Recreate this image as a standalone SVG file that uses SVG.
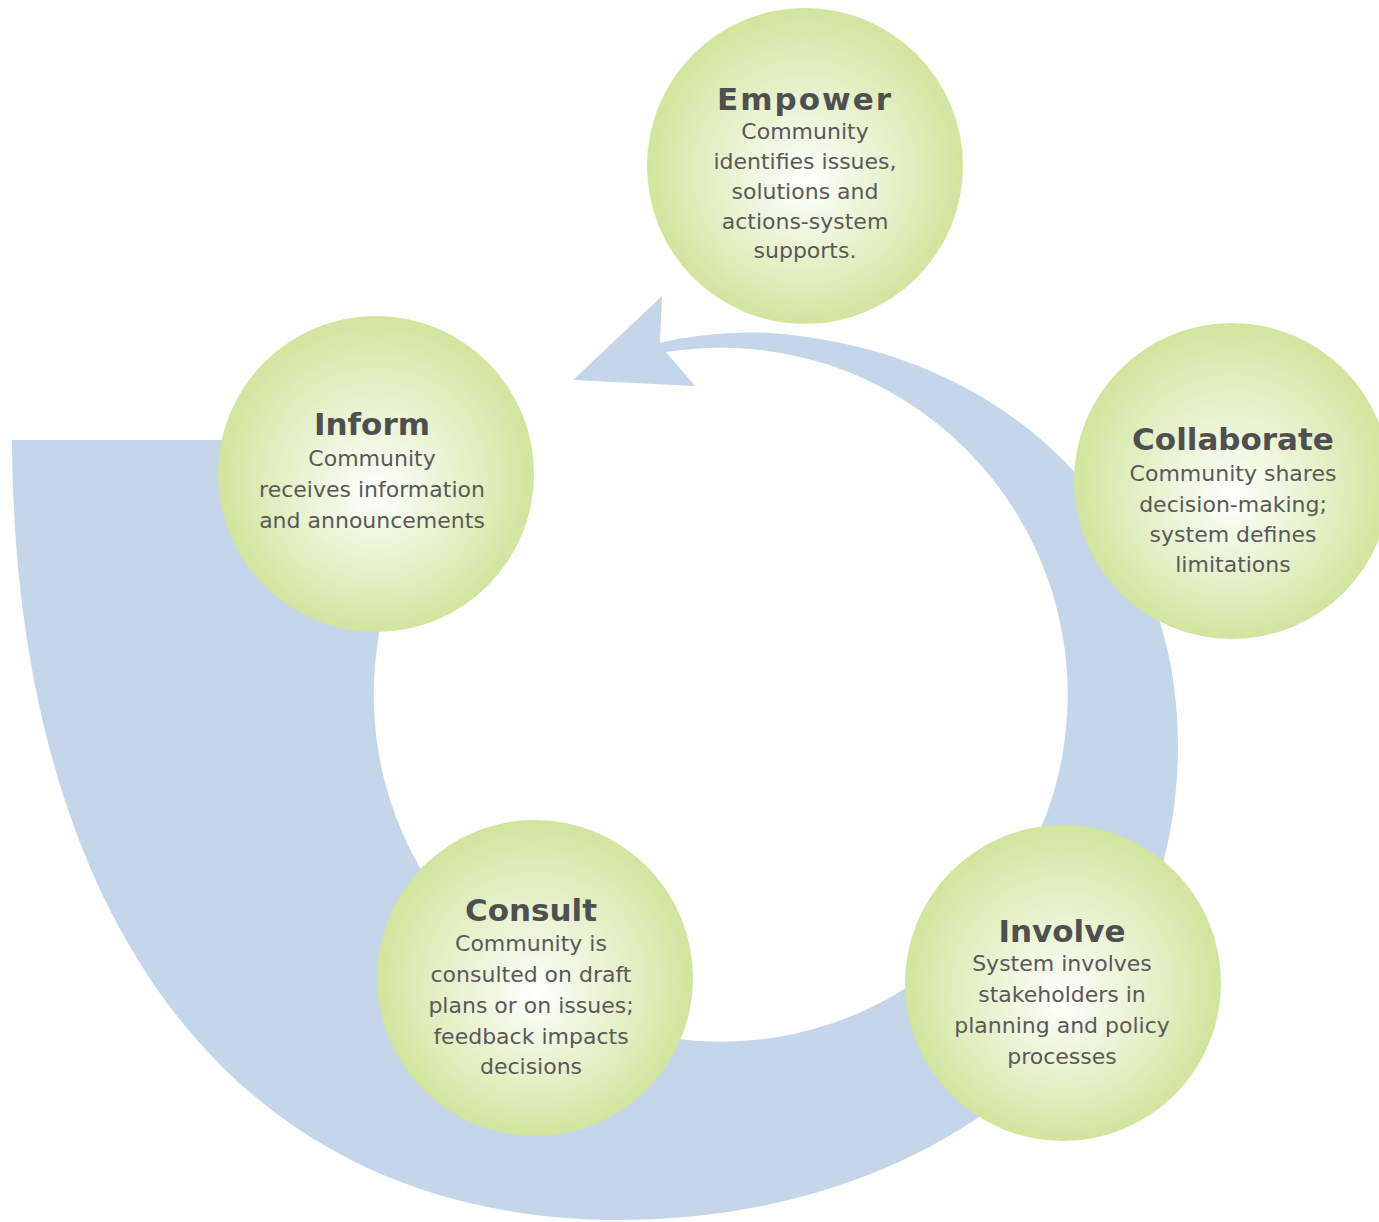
<svg xmlns="http://www.w3.org/2000/svg" width="1379" height="1222" viewBox="0 0 1379 1222">
<defs>
<radialGradient id="ball" cx="0.5" cy="0.5" r="0.5" fx="0.5" fy="0.56">
<stop offset="0" stop-color="#ffffff"/>
<stop offset="0.25" stop-color="#f3f8e6"/>
<stop offset="0.7" stop-color="#e0edbc"/>
<stop offset="1" stop-color="#d2e49d"/>
</radialGradient>
<style>
.node circle{fill:url(#ball);}
.title{font-family:"DejaVu Sans",Verdana,sans-serif;font-weight:bold;font-size:31px;fill:#4f4f4f;text-anchor:middle;}
.body{font-family:"DejaVu Sans",Verdana,sans-serif;font-size:22px;fill:#595959;text-anchor:middle;}
.band{fill:#c5d6eb;}
</style>
</defs>
<rect width="1379" height="1222" fill="#ffffff"/>
<g id="connectors">
<path class="band" d="M 12,440 C 14,900 220,1220 620,1220 C 920,1220 1178,1040 1178,745 C 1178,520 1010,350 770,333 C 740,331 690,335 660,343 L 662,296 L 573,380 L 695,386 L 666,352 A 347 347 0 1 1 485,440 L 12,440 Z"/>
</g>
<g id="node-empower" class="node">
<circle cx="805" cy="166" r="158"/>
<text class="title" x="805" y="110" style="letter-spacing:2px">Empower</text>
<text class="body" x="805" y="139">Community</text>
<text class="body" x="805" y="169">identifies issues,</text>
<text class="body" x="805" y="199">solutions and</text>
<text class="body" x="805" y="229">actions-system</text>
<text class="body" x="805" y="258">supports.</text>
</g>
<g id="node-inform" class="node">
<circle cx="376" cy="474" r="158"/>
<text class="title" x="372" y="435">Inform</text>
<text class="body" x="372" y="466">Community</text>
<text class="body" x="372" y="497">receives information</text>
<text class="body" x="372" y="528">and announcements</text>
</g>
<g id="node-collaborate" class="node">
<circle cx="1232" cy="481" r="158"/>
<text class="title" x="1233" y="450">Collaborate</text>
<text class="body" x="1233" y="481">Community shares</text>
<text class="body" x="1233" y="512">decision-making;</text>
<text class="body" x="1233" y="542">system defines</text>
<text class="body" x="1233" y="572">limitations</text>
</g>
<g id="node-consult" class="node">
<circle cx="535" cy="978" r="158"/>
<text class="title" x="531" y="921">Consult</text>
<text class="body" x="531" y="951">Community is</text>
<text class="body" x="531" y="982">consulted on draft</text>
<text class="body" x="531" y="1013">plans or on issues;</text>
<text class="body" x="531" y="1044">feedback impacts</text>
<text class="body" x="531" y="1074">decisions</text>
</g>
<g id="node-involve" class="node">
<circle cx="1063" cy="983" r="158"/>
<text class="title" x="1062" y="942">Involve</text>
<text class="body" x="1062" y="971">System involves</text>
<text class="body" x="1062" y="1002">stakeholders in</text>
<text class="body" x="1062" y="1033">planning and policy</text>
<text class="body" x="1062" y="1064">processes</text>
</g>
</svg>
